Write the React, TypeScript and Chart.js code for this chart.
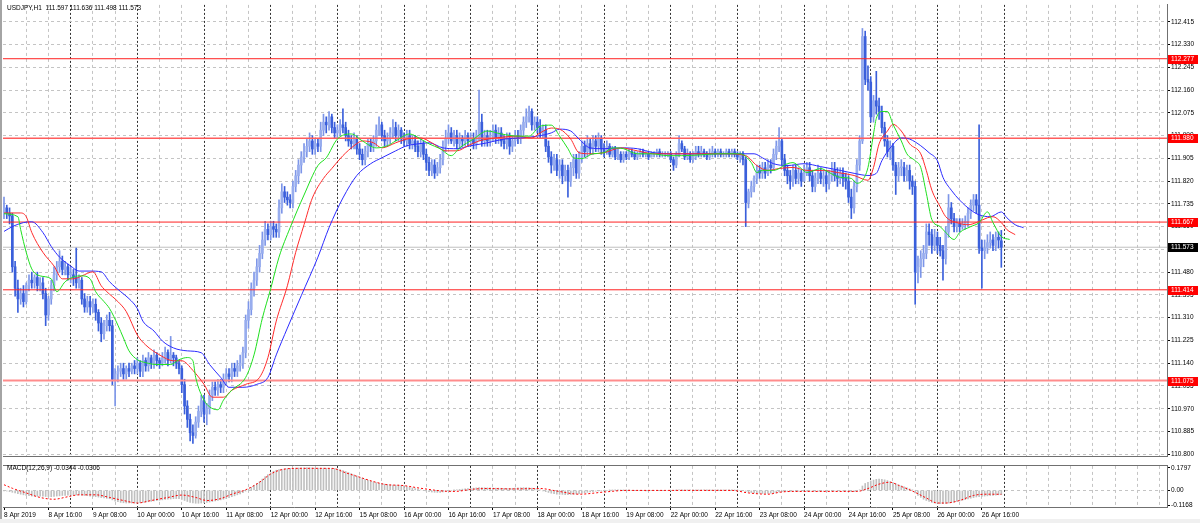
import React, { useEffect, useRef } from 'react';
import { Chart, registerables } from 'chart.js';

Chart.register(...registerables);

// ---------------- data ----------------
const symbolLabel = 'USDJPY,H1';
const lastBarOHLC = ['111.597', '111.636', '111.498', '111.573'];
const macdLabel = 'MACD(12,26,9)';
const macdLastValues = ['-0.0344', '-0.0306'];

const timeLabels = [
  '8 Apr 2019', '8 Apr 16:00', '9 Apr 08:00', '10 Apr 00:00', '10 Apr 16:00', '11 Apr 08:00',
  '12 Apr 00:00', '12 Apr 16:00', '15 Apr 08:00', '16 Apr 00:00', '16 Apr 16:00', '17 Apr 08:00',
  '18 Apr 00:00', '18 Apr 16:00', '19 Apr 08:00', '22 Apr 00:00', '22 Apr 16:00', '23 Apr 08:00',
  '24 Apr 00:00', '24 Apr 16:00', '25 Apr 08:00', '26 Apr 00:00', '26 Apr 16:00',
];

const priceTicks = [
  110.800, 110.885, 110.970, 111.055, 111.140, 111.225, 111.310, 111.395, 111.480, 111.565,
  111.650, 111.735, 111.820, 111.905, 111.990, 112.075, 112.160, 112.245, 112.330, 112.415,
];

const levels = [112.277, 111.980, 111.667, 111.414, 111.075];
const levelColors = ['#ff2020', '#ff5c5c', '#ff2020', '#ff2020', '#ff8c8c'];
const levelWidths = [1, 1.5, 1, 1, 2];
const bidPrice = 111.573;

const macdTicks = [-0.1168, 0, 0.1797];
const macdTickLabels = ['-0.1168', '0.00', '0.1797'];

// hourly bars, one row per trading day (8 Apr .. 26 Apr 2019)
const opens = [
  111.70, 111.72, 111.70, 111.69, 111.50, 111.42, 111.38, 111.40, 111.37, 111.43, 111.45, 111.44, 111.46, 111.43, 111.44, 111.40, 111.32, 111.38, 111.43, 111.47, 111.50, 111.52, 111.49, 111.50,
  111.47, 111.47, 111.46, 111.44, 111.45, 111.38, 111.35, 111.37, 111.35, 111.36, 111.33, 111.29, 111.25, 111.28, 111.30, 111.28, 111.08, 111.10, 111.11, 111.12, 111.10, 111.12, 111.11, 111.13,
  111.12, 111.14, 111.11, 111.15, 111.13, 111.16, 111.14, 111.17, 111.15, 111.14, 111.16, 111.18, 111.15, 111.17, 111.16, 111.14, 111.12, 111.06, 110.98, 110.93, 110.88, 110.87, 110.92, 110.96,
  111.00, 110.95, 110.97, 111.02, 111.05, 111.04, 111.06, 111.05, 111.08, 111.10, 111.09, 111.12, 111.11, 111.13, 111.14, 111.18, 111.30, 111.34, 111.42, 111.45, 111.50, 111.55, 111.60, 111.64,
  111.62, 111.65, 111.64, 111.63, 111.72, 111.78, 111.76, 111.75, 111.74, 111.80, 111.84, 111.88, 111.91, 111.93, 111.95, 111.97, 111.94, 111.96, 111.95, 112.01, 112.04, 112.03, 112.06, 112.02,
  112.00, 112.01, 112.03, 112.02, 111.99, 111.97, 111.96, 111.98, 111.94, 111.92, 111.90, 111.93, 111.96, 111.95, 111.97, 112.01, 112.03, 111.99, 111.97, 111.98, 112.00, 112.02, 111.99, 112.01,
  111.98, 111.97, 111.99, 111.96, 111.97, 111.95, 111.93, 111.96, 111.92, 111.89, 111.86, 111.88, 111.85, 111.87, 111.90, 111.95, 111.98, 112.00, 111.97, 111.99, 111.96, 111.98, 111.97, 111.99,
  111.97, 111.98, 111.96, 111.99, 112.04, 111.97, 111.99, 111.97, 111.99, 112.01, 111.98, 112.00, 111.97, 111.96, 111.98, 111.95, 111.97, 111.99, 111.98, 112.01, 112.04, 112.06, 112.08, 112.03,
  112.04, 112.02, 112.00, 112.01, 111.95, 111.91, 111.88, 111.90, 111.86, 111.88, 111.84, 111.86, 111.82, 111.87, 111.90, 111.85, 111.91, 111.95, 111.93, 111.96, 111.94, 111.97, 111.95, 111.98,
  111.94, 111.93, 111.95, 111.92, 111.94, 111.91, 111.92, 111.90, 111.92, 111.91, 111.93, 111.92, 111.91, 111.92, 111.93, 111.92, 111.92, 111.91, 111.92, 111.92, 111.93, 111.92, 111.92, 111.92,
  111.92, 111.90, 111.88, 111.92, 111.96, 111.94, 111.91, 111.92, 111.90, 111.91, 111.93, 111.92, 111.93, 111.92, 111.91, 111.92, 111.93, 111.92, 111.93, 111.92, 111.92, 111.93, 111.92, 111.93,
  111.92, 111.91, 111.92, 111.90, 111.74, 111.78, 111.80, 111.83, 111.86, 111.85, 111.87, 111.85, 111.88, 111.87, 111.92, 111.95, 111.97, 111.90, 111.86, 111.84, 111.82, 111.86, 111.83, 111.85,
  111.82, 111.85, 111.87, 111.84, 111.80, 111.83, 111.85, 111.83, 111.84, 111.81, 111.84, 111.86, 111.84, 111.83, 111.85, 111.83, 111.82, 111.76, 111.72, 111.80, 111.88, 111.97, 112.36, 112.20,
  112.19, 112.06, 112.12, 112.10, 112.08, 112.02, 111.97, 111.93, 111.95, 111.88, 111.84, 111.87, 111.87, 111.84, 111.86, 111.82, 111.80, 111.48, 111.50, 111.53, 111.55, 111.63, 111.62, 111.58,
  111.61, 111.58, 111.56, 111.53, 111.63, 111.72, 111.68, 111.65, 111.66, 111.65, 111.66, 111.67, 111.70, 111.73, 111.75, 111.73, 111.57, 111.56, 111.57, 111.59, 111.60, 111.58, 111.61, 111.597,
];

const highs = [
  111.76, 111.73, 111.72, 111.70, 111.52, 111.45, 111.42, 111.43, 111.44, 111.47, 111.48, 111.47, 111.48, 111.46, 111.46, 111.42, 111.39, 111.45, 111.50, 111.52, 111.56, 111.54, 111.52, 111.51,
  111.50, 111.49, 111.57, 111.47, 111.46, 111.40, 111.39, 111.39, 111.38, 111.38, 111.34, 111.31, 111.30, 111.32, 111.33, 111.30, 111.12, 111.13, 111.14, 111.14, 111.13, 111.14, 111.14, 111.15,
  111.16, 111.15, 111.17, 111.16, 111.18, 111.17, 111.19, 111.18, 111.16, 111.18, 111.20, 111.19, 111.24, 111.18, 111.17, 111.15, 111.13, 111.08, 111.00, 110.95, 110.91, 110.94, 110.98, 111.02,
  111.02, 110.99, 111.04, 111.07, 111.07, 111.08, 111.08, 111.10, 111.12, 111.12, 111.14, 111.14, 111.15, 111.17, 111.20, 111.32, 111.37, 111.44, 111.48, 111.53, 111.58, 111.63, 111.67, 111.66,
  111.67, 111.67, 111.66, 111.75, 111.81, 111.80, 111.78, 111.77, 111.82, 111.86, 111.90, 111.93, 111.96, 111.98, 112.00, 111.99, 111.98, 111.98, 112.04, 112.07, 112.06, 112.08, 112.07, 112.04,
  112.03, 112.05, 112.09, 112.04, 112.01, 111.99, 112.00, 111.99, 111.96, 111.94, 111.95, 111.98, 111.98, 111.99, 112.03, 112.06, 112.04, 112.01, 112.00, 112.02, 112.05, 112.04, 112.03, 112.02,
  112.00, 112.01, 112.01, 111.99, 111.99, 111.97, 111.98, 111.97, 111.94, 111.91, 111.90, 111.90, 111.89, 111.92, 111.97, 112.01, 112.03, 112.02, 112.01, 112.01, 112.00, 111.99, 112.01, 112.00,
  112.00, 112.00, 112.01, 112.16, 112.07, 112.01, 112.01, 112.01, 112.03, 112.03, 112.02, 112.02, 111.99, 112.00, 112.00, 111.99, 112.01, 112.01, 112.03, 112.06, 112.09, 112.10, 112.09, 112.06,
  112.06, 112.05, 112.03, 112.03, 111.97, 111.93, 111.92, 111.92, 111.90, 111.90, 111.88, 111.88, 111.89, 111.92, 111.92, 111.93, 111.97, 111.97, 111.99, 111.98, 111.99, 111.99, 112.00, 111.99,
  111.96, 111.97, 111.96, 111.95, 111.95, 111.94, 111.93, 111.93, 111.93, 111.94, 111.94, 111.93, 111.93, 111.94, 111.94, 111.93, 111.93, 111.93, 111.93, 111.94, 111.94, 111.93, 111.93, 111.93,
  111.93, 111.91, 111.93, 111.99, 111.97, 111.95, 111.94, 111.93, 111.93, 111.95, 111.95, 111.95, 111.94, 111.93, 111.94, 111.95, 111.94, 111.94, 111.94, 111.93, 111.94, 111.94, 111.94, 111.94,
  111.93, 111.93, 111.93, 111.91, 111.79, 111.82, 111.84, 111.88, 111.88, 111.89, 111.89, 111.90, 111.90, 111.94, 111.97, 112.02, 111.98, 111.92, 111.88, 111.86, 111.88, 111.88, 111.87, 111.86,
  111.88, 111.89, 111.89, 111.86, 111.85, 111.88, 111.87, 111.86, 111.86, 111.86, 111.89, 111.89, 111.87, 111.87, 111.87, 111.85, 111.84, 111.79, 111.82, 111.90, 111.99, 112.39, 112.38, 112.25,
  112.21, 112.14, 112.23, 112.13, 112.10, 112.04, 111.99, 111.97, 111.96, 111.89, 111.89, 111.90, 111.89, 111.88, 111.88, 111.84, 111.82, 111.54, 111.56, 111.58, 111.66, 111.66, 111.64, 111.64,
  111.63, 111.61, 111.58, 111.65, 111.77, 111.74, 111.70, 111.68, 111.68, 111.68, 111.69, 111.72, 111.75, 111.77, 111.77, 112.03, 111.60, 111.60, 111.62, 111.63, 111.62, 111.63, 111.63, 111.636,
];

const lows = [
  111.68, 111.68, 111.66, 111.48, 111.39, 111.33, 111.36, 111.35, 111.36, 111.41, 111.42, 111.42, 111.41, 111.41, 111.38, 111.28, 111.30, 111.36, 111.41, 111.45, 111.48, 111.47, 111.47, 111.45,
  111.44, 111.43, 111.42, 111.42, 111.36, 111.33, 111.33, 111.32, 111.33, 111.30, 111.26, 111.22, 111.23, 111.26, 111.26, 111.06, 110.98, 111.07, 111.09, 111.08, 111.08, 111.09, 111.10, 111.10,
  111.10, 111.09, 111.09, 111.11, 111.11, 111.12, 111.12, 111.13, 111.12, 111.13, 111.14, 111.13, 111.14, 111.13, 111.12, 111.10, 111.03, 110.95, 110.90, 110.85, 110.84, 110.86, 110.90, 110.94,
  110.92, 110.91, 110.95, 111.00, 111.02, 111.02, 111.03, 111.03, 111.06, 111.07, 111.07, 111.09, 111.09, 111.11, 111.12, 111.16, 111.27, 111.32, 111.39, 111.43, 111.48, 111.53, 111.58, 111.60,
  111.60, 111.61, 111.61, 111.61, 111.70, 111.74, 111.73, 111.72, 111.72, 111.78, 111.81, 111.85, 111.89, 111.91, 111.93, 111.92, 111.92, 111.93, 111.93, 111.99, 112.00, 112.01, 112.00, 111.98,
  111.98, 111.99, 112.00, 111.97, 111.95, 111.94, 111.94, 111.92, 111.90, 111.88, 111.88, 111.91, 111.93, 111.93, 111.95, 111.99, 111.97, 111.95, 111.95, 111.96, 111.98, 111.97, 111.97, 111.96,
  111.95, 111.95, 111.94, 111.94, 111.93, 111.91, 111.91, 111.90, 111.86, 111.84, 111.84, 111.83, 111.84, 111.85, 111.88, 111.93, 111.96, 111.96, 111.95, 111.94, 111.94, 111.95, 111.95, 111.95,
  111.95, 111.94, 111.94, 111.97, 111.95, 111.95, 111.95, 111.95, 111.97, 111.96, 111.96, 111.95, 111.94, 111.94, 111.92, 111.93, 111.95, 111.96, 111.96, 111.99, 112.02, 112.04, 112.01, 112.01,
  112.00, 111.98, 111.98, 111.93, 111.89, 111.85, 111.86, 111.84, 111.83, 111.81, 111.82, 111.76, 111.80, 111.84, 111.83, 111.83, 111.89, 111.91, 111.91, 111.92, 111.92, 111.93, 111.93, 111.92,
  111.91, 111.92, 111.91, 111.91, 111.90, 111.90, 111.89, 111.89, 111.90, 111.90, 111.91, 111.90, 111.90, 111.91, 111.91, 111.91, 111.90, 111.91, 111.91, 111.91, 111.91, 111.91, 111.91, 111.91,
  111.89, 111.86, 111.87, 111.91, 111.93, 111.90, 111.90, 111.89, 111.89, 111.90, 111.91, 111.91, 111.91, 111.90, 111.90, 111.91, 111.91, 111.91, 111.91, 111.91, 111.91, 111.91, 111.91, 111.91,
  111.90, 111.89, 111.88, 111.65, 111.72, 111.76, 111.78, 111.81, 111.83, 111.83, 111.83, 111.84, 111.85, 111.86, 111.90, 111.93, 111.88, 111.84, 111.81, 111.79, 111.80, 111.81, 111.81, 111.80,
  111.82, 111.84, 111.82, 111.78, 111.78, 111.81, 111.81, 111.80, 111.78, 111.79, 111.82, 111.82, 111.80, 111.81, 111.80, 111.79, 111.74, 111.68, 111.70, 111.78, 111.86, 111.96, 112.18, 112.16,
  112.04, 112.04, 112.07, 112.05, 112.00, 111.95, 111.91, 111.90, 111.86, 111.77, 111.82, 111.84, 111.82, 111.82, 111.79, 111.77, 111.36, 111.44, 111.46, 111.50, 111.53, 111.58, 111.55, 111.56,
  111.55, 111.54, 111.45, 111.51, 111.61, 111.66, 111.63, 111.63, 111.63, 111.64, 111.64, 111.65, 111.68, 111.71, 111.70, 111.55, 111.42, 111.53, 111.55, 111.57, 111.56, 111.56, 111.57, 111.498,
];

const closes = [
  111.72, 111.70, 111.69, 111.50, 111.42, 111.38, 111.40, 111.37, 111.43, 111.45, 111.44, 111.46, 111.43, 111.44, 111.40, 111.32, 111.38, 111.43, 111.47, 111.50, 111.52, 111.49, 111.50, 111.47,
  111.47, 111.46, 111.44, 111.45, 111.38, 111.35, 111.37, 111.35, 111.36, 111.33, 111.29, 111.25, 111.28, 111.30, 111.28, 111.08, 111.10, 111.11, 111.12, 111.10, 111.12, 111.11, 111.13, 111.12,
  111.14, 111.11, 111.15, 111.13, 111.16, 111.14, 111.17, 111.15, 111.14, 111.16, 111.18, 111.15, 111.17, 111.16, 111.14, 111.12, 111.06, 110.98, 110.93, 110.88, 110.87, 110.92, 110.96, 111.00,
  110.95, 110.97, 111.02, 111.05, 111.04, 111.06, 111.05, 111.08, 111.10, 111.09, 111.12, 111.11, 111.13, 111.14, 111.18, 111.30, 111.34, 111.42, 111.45, 111.50, 111.55, 111.60, 111.64, 111.62,
  111.65, 111.64, 111.63, 111.72, 111.78, 111.76, 111.75, 111.74, 111.80, 111.84, 111.88, 111.91, 111.93, 111.95, 111.97, 111.94, 111.96, 111.95, 112.01, 112.04, 112.03, 112.06, 112.02, 112.00,
  112.01, 112.03, 112.02, 111.99, 111.97, 111.96, 111.98, 111.94, 111.92, 111.90, 111.93, 111.96, 111.95, 111.97, 112.01, 112.03, 111.99, 111.97, 111.98, 112.00, 112.02, 111.99, 112.01, 111.98,
  111.97, 111.99, 111.96, 111.97, 111.95, 111.93, 111.96, 111.92, 111.89, 111.86, 111.88, 111.85, 111.87, 111.90, 111.95, 111.98, 112.00, 111.97, 111.99, 111.96, 111.98, 111.97, 111.99, 111.97,
  111.98, 111.96, 111.99, 112.04, 111.97, 111.99, 111.97, 111.99, 112.01, 111.98, 112.00, 111.97, 111.96, 111.98, 111.95, 111.97, 111.99, 111.98, 112.01, 112.04, 112.06, 112.08, 112.03, 112.04,
  112.02, 112.00, 112.01, 111.95, 111.91, 111.88, 111.90, 111.86, 111.88, 111.84, 111.86, 111.82, 111.87, 111.90, 111.85, 111.91, 111.95, 111.93, 111.96, 111.94, 111.97, 111.95, 111.98, 111.94,
  111.93, 111.95, 111.92, 111.94, 111.91, 111.92, 111.90, 111.92, 111.91, 111.93, 111.92, 111.91, 111.92, 111.93, 111.92, 111.92, 111.91, 111.92, 111.92, 111.93, 111.92, 111.92, 111.92, 111.92,
  111.90, 111.88, 111.92, 111.96, 111.94, 111.91, 111.92, 111.90, 111.91, 111.93, 111.92, 111.93, 111.92, 111.91, 111.92, 111.93, 111.92, 111.93, 111.92, 111.92, 111.93, 111.92, 111.93, 111.92,
  111.91, 111.92, 111.90, 111.74, 111.78, 111.80, 111.83, 111.86, 111.85, 111.87, 111.85, 111.88, 111.87, 111.92, 111.95, 111.97, 111.90, 111.86, 111.84, 111.82, 111.86, 111.83, 111.85, 111.82,
  111.85, 111.87, 111.84, 111.80, 111.83, 111.85, 111.83, 111.84, 111.81, 111.84, 111.86, 111.84, 111.83, 111.85, 111.83, 111.82, 111.76, 111.72, 111.80, 111.88, 111.97, 112.36, 112.20, 112.19,
  112.06, 112.12, 112.10, 112.08, 112.02, 111.97, 111.93, 111.95, 111.88, 111.84, 111.87, 111.87, 111.84, 111.86, 111.82, 111.80, 111.48, 111.50, 111.53, 111.55, 111.63, 111.62, 111.58, 111.61,
  111.58, 111.56, 111.53, 111.63, 111.72, 111.68, 111.65, 111.66, 111.65, 111.66, 111.67, 111.70, 111.73, 111.75, 111.73, 111.57, 111.56, 111.57, 111.59, 111.60, 111.58, 111.61, 111.60, 111.573,
];

// Alligator lines: [bar index, price]
const jawPts = [
  [0, 111.632], [3, 111.650], [7, 111.665], [10, 111.668], [14, 111.628], [17, 111.576], [20, 111.536], [24, 111.503],
  [27, 111.484], [31, 111.484], [35, 111.481], [38, 111.444], [42, 111.407], [45, 111.381], [48, 111.344], [50, 111.297],
  [54, 111.260], [57, 111.223], [61, 111.197], [66, 111.186], [71, 111.179], [74, 111.135], [78, 111.087], [81, 111.050],
  [86, 111.050], [91, 111.061], [95, 111.087], [98, 111.171], [102, 111.271], [107, 111.392], [113, 111.536], [117, 111.646],
  [122, 111.757], [127, 111.841], [132, 111.885], [136, 111.907], [141, 111.933], [145, 111.952], [149, 111.959], [153, 111.963],
  [158, 111.944], [163, 111.941], [168, 111.952], [174, 111.963], [180, 111.977], [186, 111.981], [192, 111.988], [197, 112.000],
  [200, 112.014], [204, 112.007], [207, 111.977], [211, 111.944], [216, 111.941], [222, 111.944], [228, 111.941], [234, 111.926],
  [241, 111.922], [251, 111.922], [260, 111.922], [270, 111.922], [273, 111.907], [277, 111.885], [282, 111.878], [288, 111.885],
  [294, 111.874], [301, 111.860], [306, 111.849], [311, 111.841], [314, 111.849], [316, 111.896], [319, 111.944], [323, 111.981],
  [326, 111.977], [330, 111.952], [333, 111.926], [336, 111.896], [338, 111.834], [341, 111.786], [344, 111.749], [348, 111.712],
  [351, 111.694], [355, 111.687], [359, 111.705], [361, 111.683], [364, 111.657], [367, 111.646],
];
const teethPts = [
  [0, 111.701], [6, 111.701], [8, 111.687], [10, 111.628], [14, 111.554], [18, 111.503], [21, 111.455], [25, 111.455],
  [28, 111.466], [32, 111.481], [35, 111.429], [37, 111.407], [41, 111.370], [44, 111.333], [48, 111.245], [51, 111.208],
  [56, 111.171], [61, 111.149], [64, 111.149], [68, 111.113], [72, 111.061], [75, 111.013], [79, 111.013], [82, 111.039],
  [87, 111.061], [92, 111.087], [95, 111.161], [98, 111.297], [102, 111.429], [105, 111.554], [108, 111.657], [111, 111.757],
  [115, 111.830], [118, 111.867], [122, 111.915], [126, 111.952], [129, 111.970], [133, 111.963], [136, 111.944], [141, 111.963],
  [145, 111.977], [150, 111.981], [154, 111.963], [159, 111.933], [163, 111.933], [167, 111.952], [171, 111.970], [177, 111.981],
  [185, 111.988], [190, 111.981], [193, 112.000], [197, 112.018], [200, 112.014], [204, 111.977], [207, 111.926], [211, 111.922],
  [216, 111.926], [222, 111.944], [228, 111.933], [234, 111.922], [241, 111.922], [251, 111.922], [260, 111.922], [267, 111.915],
  [271, 111.878], [275, 111.860], [279, 111.867], [284, 111.871], [289, 111.860], [295, 111.860], [300, 111.852], [306, 111.841],
  [311, 111.823], [313, 111.871], [315, 111.959], [318, 112.007], [320, 112.032], [323, 112.007], [326, 111.959], [330, 111.922],
  [332, 111.860], [334, 111.786], [337, 111.724], [339, 111.687], [343, 111.665], [347, 111.657], [350, 111.665], [354, 111.683],
  [356, 111.687], [359, 111.665], [361, 111.639], [364, 111.620],
];
const lipsPts = [
  [0, 111.698], [5, 111.687], [6, 111.639], [8, 111.554], [10, 111.492], [13, 111.466], [17, 111.455], [19, 111.407],
  [22, 111.444], [25, 111.462], [28, 111.466], [31, 111.455], [33, 111.407], [36, 111.370], [38, 111.344], [41, 111.282],
  [43, 111.234], [45, 111.186], [48, 111.153], [51, 111.142], [55, 111.135], [60, 111.135], [63, 111.153], [66, 111.161],
  [68, 111.149], [69, 111.087], [72, 111.002], [74, 110.977], [77, 110.966], [79, 111.002], [82, 111.039], [87, 111.087],
  [90, 111.171], [93, 111.308], [96, 111.418], [99, 111.536], [103, 111.646], [108, 111.768], [113, 111.878], [116, 111.907],
  [120, 111.977], [125, 111.996], [129, 111.970], [134, 111.944], [138, 111.952], [141, 111.970], [146, 111.996], [150, 111.977],
  [153, 111.959], [157, 111.941], [161, 111.915], [164, 111.944], [169, 111.977], [174, 112.007], [179, 111.996], [185, 111.988],
  [189, 111.988], [193, 112.025], [197, 112.029], [200, 111.988], [203, 111.941], [205, 111.907], [208, 111.904], [212, 111.922],
  [216, 111.926], [219, 111.944], [223, 111.941], [228, 111.922], [233, 111.922], [239, 111.915], [244, 111.915], [251, 111.918],
  [257, 111.922], [265, 111.922], [269, 111.889], [271, 111.852], [273, 111.860], [277, 111.860], [282, 111.885], [284, 111.889],
  [287, 111.867], [289, 111.852], [294, 111.867], [297, 111.852], [301, 111.834], [305, 111.830], [307, 111.812], [309, 111.823],
  [311, 111.871], [313, 111.996], [314, 112.054], [316, 112.080], [318, 112.080], [320, 112.032], [323, 111.970], [325, 111.922],
  [328, 111.896], [330, 111.871], [332, 111.775], [334, 111.676], [337, 111.650], [339, 111.628], [342, 111.602], [344, 111.628],
  [348, 111.650], [351, 111.665], [354, 111.705], [356, 111.665], [359, 111.613], [362, 111.602],
];

// MACD main (histogram), one value per bar
const macdHist = [
  -0.005, -0.005, -0.01, -0.015, -0.02, -0.025, -0.03, -0.035, -0.04, -0.042, -0.045, -0.045, -0.046, -0.045, -0.045, -0.048, -0.05, -0.05, -0.048, -0.045, -0.043, -0.04, -0.04, -0.038,
  -0.038, -0.037, -0.036, -0.036, -0.038, -0.04, -0.042, -0.045, -0.048, -0.05, -0.053, -0.057, -0.06, -0.063, -0.066, -0.075, -0.085, -0.09, -0.095, -0.098, -0.1, -0.1, -0.1, -0.1,
  -0.099, -0.097, -0.095, -0.093, -0.09, -0.087, -0.084, -0.081, -0.078, -0.075, -0.072, -0.07, -0.068, -0.066, -0.065, -0.066, -0.072, -0.08, -0.088, -0.095, -0.1, -0.102, -0.102, -0.1,
  -0.098, -0.095, -0.092, -0.088, -0.084, -0.08, -0.075, -0.07, -0.065, -0.058, -0.05, -0.043, -0.035, -0.027, -0.018, -0.005, 0.01, 0.025, 0.04, 0.055, 0.07, 0.09, 0.11, 0.125,
  0.14, 0.152, 0.16, 0.165, 0.168, 0.171, 0.173, 0.175, 0.176, 0.177, 0.178, 0.179, 0.18, 0.18, 0.18, 0.179, 0.178, 0.178, 0.177, 0.177, 0.176, 0.176, 0.175, 0.174,
  0.17, 0.165, 0.158, 0.15, 0.142, 0.133, 0.124, 0.115, 0.106, 0.097, 0.088, 0.08, 0.073, 0.067, 0.062, 0.058, 0.054, 0.05, 0.047, 0.045, 0.043, 0.042, 0.041, 0.04,
  0.035, 0.03, 0.025, 0.02, 0.015, 0.01, 0.005, 0.0, -0.005, -0.01, -0.013, -0.015, -0.016, -0.015, -0.012, -0.008, -0.005, -0.002, 0.002, 0.005, 0.008, 0.01, 0.012, 0.014,
  0.016, 0.018, 0.02, 0.022, 0.022, 0.021, 0.02, 0.02, 0.019, 0.018, 0.018, 0.017, 0.017, 0.016, 0.016, 0.017, 0.018, 0.02, 0.021, 0.022, 0.022, 0.02, 0.018, 0.015,
  0.01, 0.004, -0.003, -0.01, -0.016, -0.022, -0.026, -0.029, -0.031, -0.032, -0.033, -0.033, -0.032, -0.03, -0.028, -0.025, -0.022, -0.018, -0.015, -0.012, -0.009, -0.006, -0.004, -0.002,
  -0.001, 0, 0.001, 0.002, 0.002, 0.002, 0.002, 0.001, 0.001, 0.001, 0, 0, 0, 0, 0, -0.001, -0.001, 0, 0, 0, 0, 0, 0, 0,
  0, 0, 0.001, 0.003, 0.004, 0.004, 0.003, 0.003, 0.002, 0.002, 0.002, 0.002, 0.001, 0.001, 0.001, 0.001, 0.001, 0.001, 0.001, 0.001, 0.001, 0.001, 0.001, 0.001,
  0.001, 0, 0, -0.008, -0.013, -0.017, -0.02, -0.022, -0.023, -0.024, -0.024, -0.023, -0.022, -0.02, -0.016, -0.012, -0.01, -0.009, -0.008, -0.008, -0.007, -0.007, -0.006, -0.006,
  -0.006, -0.006, -0.006, -0.007, -0.007, -0.006, -0.006, -0.006, -0.006, -0.006, -0.005, -0.005, -0.005, -0.005, -0.005, -0.005, -0.007, -0.01, -0.01, -0.006, 0.005, 0.035, 0.055, 0.065,
  0.075, 0.082, 0.088, 0.09, 0.088, 0.084, 0.078, 0.07, 0.062, 0.054, 0.045, 0.037, 0.028, 0.02, 0.012, 0.005, -0.02, -0.04, -0.055, -0.07, -0.08, -0.088, -0.095, -0.1,
  -0.103, -0.105, -0.105, -0.104, -0.1, -0.097, -0.093, -0.088, -0.083, -0.078, -0.073, -0.068, -0.062, -0.057, -0.052, -0.05, -0.048, -0.045, -0.043, -0.041, -0.039, -0.037, -0.035, -0.0344,
];

// MACD signal line: [bar index, value]
const signalPts = [
  [0, 0.045], [3, 0.017], [8, -0.02], [13, -0.056], [18, -0.07], [23, -0.05], [27, -0.035], [33, -0.035],
  [38, -0.056], [43, -0.08], [48, -0.1], [53, -0.08], [59, -0.056], [64, -0.037], [69, -0.056], [73, -0.08],
  [78, -0.065], [82, -0.03], [87, 0.005], [92, 0.065], [96, 0.13], [100, 0.165], [106, 0.175], [118, 0.175],
  [123, 0.14], [128, 0.105], [133, 0.07], [138, 0.045], [143, 0.04], [150, 0.017], [158, -0.005], [162, -0.008],
  [169, 0.01], [174, 0.015], [183, 0.012], [193, 0.015], [199, -0.005], [207, -0.03], [216, -0.013], [224, 0],
  [238, 0], [250, 0], [262, 0], [268, -0.02], [275, -0.03], [280, -0.012], [286, -0.008], [298, -0.008],
  [307, -0.008], [311, 0.015], [315, 0.05], [319, 0.065], [322, 0.04], [327, -0.005], [332, -0.06], [336, -0.1],
  [339, -0.1], [344, -0.08], [349, -0.04], [354, -0.03], [359, -0.0306],
];

// ---------------- layout / style ----------------
const X_MIN = -0.36;
const X_MAX = 418.64;
const Y_MIN = 110.793;
const Y_MAX = 112.478;
const M_MIN = -0.1316;
const M_MAX = 0.1945;
const BARS_PER_DAY = 24;
const DATA_BARS = closes.length;
const GRID_STEP = 8;
const LABEL_STEP = 16;
const FONT_FAMILY = '"Liberation Sans", Arial, sans-serif';
const FONT = { family: FONT_FAMILY, size: 6.5 };
const GRID_GRAY = '#c4c4c4';
const DAY_SEP = '#303030';
const FRAME = '#707070';
const BULL_BODY = '#98adee';
const BULL_WICK = '#7d96e8';
const BEAR_BODY = '#3a5fdb';
const BEAR_WICK = '#3a5fdb';

const gridTicks: number[] = [];
for (let v = 0; v <= X_MAX; v += GRID_STEP) gridTicks.push(v);
const dayTicks: number[] = [];
for (let v = BARS_PER_DAY; v <= DATA_BARS; v += BARS_PER_DAY) dayTicks.push(v);

const isDaySep = (v: number) => v > 0 && v % BARS_PER_DAY === 0 && v <= DATA_BARS;
const isLabelTick = (v: number) => v % LABEL_STEP === 0 && v / LABEL_STEP < timeLabels.length;
const isBull = (i: number) => closes[i] >= opens[i];

const grayGridColor = (c: any) => {
  const v = c.tick ? c.tick.value : null;
  if (v == null || v === 0 || isDaySep(v)) return 'transparent';
  return GRID_GRAY;
};

const baseX = (extra: any = {}) => ({
  type: 'linear',
  min: X_MIN,
  max: X_MAX,
  offset: false,
  position: 'bottom',
  ...extra,
});

const dayAxis = baseX({
  afterBuildTicks: (s: any) => { s.ticks = dayTicks.map((v) => ({ value: v })); },
  ticks: { display: false },
  grid: { offset: false, drawTicks: false, color: DAY_SEP, lineWidth: 1 },
  border: { display: false, dash: [2, 2] },
});

const levelTags = {
  id: 'levelTags',
  afterDraw(chart: any) {
    const { ctx, chartArea, scales } = chart;
    const ys = scales.y;
    const tags = levels.map((v) => ({ v, bg: '#ff0000' })).concat([{ v: bidPrice, bg: '#000000' }]);
    ctx.save();
    ctx.font = `6.5px ${FONT_FAMILY}`;
    ctx.textBaseline = 'middle';
    ctx.textAlign = 'left';
    for (const t of tags) {
      const py = Math.round(ys.getPixelForValue(t.v));
      ctx.fillStyle = t.bg;
      ctx.fillRect(chartArea.right + 1, py - 4, 30, 9);
      ctx.fillStyle = '#ffffff';
      ctx.fillText(t.v.toFixed(3), chartArea.right + 4, py + 0.5);
    }
    ctx.restore();
  },
};

function mainConfig(): any {
  const idx = closes.map((_, i) => i);
  const lineDs = (pts: number[][], color: string) => ({
    type: 'line',
    data: pts.map(([x, y]) => ({ x, y })),
    borderColor: color,
    borderWidth: 1,
    pointRadius: 0,
    cubicInterpolationMode: 'monotone',
    order: 0,
  });
  const levelDs = levels.map((lv, k) => ({
    type: 'line',
    data: [{ x: X_MIN, y: lv }, { x: X_MAX, y: lv }],
    borderColor: levelColors[k],
    borderWidth: levelWidths[k],
    pointRadius: 0,
    order: 1,
  }));
  return {
    type: 'bar',
    data: {
      datasets: [
        lineDs(lipsPts, '#1fe01f'),
        lineDs(teethPts, '#ff2b2b'),
        lineDs(jawPts, '#2b2bff'),
        ...levelDs,
        {
          type: 'bar',
          data: idx.map((i) => ({ x: i, y: [opens[i], closes[i]] })),
          backgroundColor: idx.map((i) => (isBull(i) ? BULL_BODY : BEAR_BODY)),
          barThickness: 2,
          minBarLength: 1,
          grouped: false,
          borderWidth: 0,
          order: 2,
        },
        {
          type: 'bar',
          data: idx.map((i) => ({ x: i, y: [lows[i], highs[i]] })),
          backgroundColor: idx.map((i) => (isBull(i) ? BULL_WICK : BEAR_WICK)),
          barThickness: 1,
          grouped: false,
          borderWidth: 0,
          order: 3,
        },
        {
          type: 'line',
          data: [{ x: X_MIN, y: bidPrice }, { x: X_MAX, y: bidPrice }],
          borderColor: '#c0c0c0',
          borderWidth: 1,
          pointRadius: 0,
          order: 4,
        },
      ],
    },
    options: {
      responsive: false,
      animation: false,
      devicePixelRatio: 1,
      events: [],
      layout: { padding: { left: 3, top: 2, right: 0, bottom: 1 } },
      plugins: { legend: { display: false }, tooltip: { enabled: false }, title: { display: false } },
      scales: {
        x: baseX({
          afterBuildTicks: (s: any) => { s.ticks = gridTicks.map((v) => ({ value: v })); },
          ticks: { display: false },
          grid: { offset: false, drawTicks: false, color: grayGridColor, lineWidth: 1 },
          border: { display: true, color: FRAME, width: 1, dash: [3, 3] },
        }),
        xDay: dayAxis,
        y: {
          type: 'linear',
          position: 'right',
          min: Y_MIN,
          max: Y_MAX,
          afterBuildTicks: (s: any) => { s.ticks = priceTicks.map((v) => ({ value: v })); },
          afterFit: (s: any) => { s.width = 33; },
          ticks: {
            autoSkip: false,
            font: FONT,
            color: '#000000',
            padding: 1,
            callback: (v: any) => Number(v).toFixed(3),
          },
          grid: { color: GRID_GRAY, drawTicks: true, tickLength: 3, tickColor: '#000000', lineWidth: 1 },
          border: { display: true, color: FRAME, width: 1, dash: [3, 3] },
        },
      },
    },
    plugins: [levelTags],
  };
}

function macdConfig(): any {
  return {
    type: 'bar',
    data: {
      datasets: [
        {
          type: 'line',
          data: signalPts.map(([x, y]) => ({ x, y })),
          borderColor: '#ff0000',
          borderWidth: 1,
          borderDash: [2, 2],
          pointRadius: 0,
          cubicInterpolationMode: 'monotone',
          order: 0,
        },
        {
          type: 'bar',
          data: macdHist.map((v, i) => ({ x: i, y: v })),
          backgroundColor: '#c0c0c0',
          barThickness: 1,
          grouped: false,
          borderWidth: 0,
          order: 1,
        },
      ],
    },
    options: {
      responsive: false,
      animation: false,
      devicePixelRatio: 1,
      events: [],
      layout: { padding: { left: 3, top: 2, right: 0, bottom: 0 } },
      plugins: { legend: { display: false }, tooltip: { enabled: false }, title: { display: false } },
      scales: {
        x: baseX({
          afterBuildTicks: (s: any) => { s.ticks = gridTicks.map((v) => ({ value: v })); },
          afterFit: (s: any) => { s.height = 16; },
          ticks: {
            display: true,
            autoSkip: false,
            maxRotation: 0,
            minRotation: 0,
            align: 'start',
            padding: 1,
            font: FONT,
            color: '#000000',
            callback: (v: any) => (isLabelTick(Number(v)) ? timeLabels[Number(v) / LABEL_STEP] : ''),
          },
          grid: {
            offset: false,
            drawTicks: true,
            tickLength: 3,
            tickColor: (c: any) => (c.tick && isLabelTick(c.tick.value) ? '#000000' : 'transparent'),
            color: grayGridColor,
            lineWidth: 1,
          },
          border: { display: true, color: FRAME, width: 1, dash: [3, 3] },
        }),
        xDay: dayAxis,
        xTop: baseX({
          position: 'top',
          ticks: { display: false },
          grid: { display: false, drawTicks: false },
          border: { display: true, color: FRAME, width: 1 },
        }),
        y: {
          type: 'linear',
          position: 'right',
          min: M_MIN,
          max: M_MAX,
          afterBuildTicks: (s: any) => { s.ticks = macdTicks.map((v) => ({ value: v })); },
          afterFit: (s: any) => { s.width = 33; },
          ticks: {
            autoSkip: false,
            font: FONT,
            color: '#000000',
            padding: 1,
            callback: (_v: any, i: number) => macdTickLabels[i] ?? '',
          },
          grid: {
            color: (c: any) => (c.tick && c.tick.value === 0 ? GRID_GRAY : 'transparent'),
            drawTicks: true,
            tickLength: 3,
            tickColor: '#000000',
            lineWidth: 1,
          },
          border: { display: true, color: FRAME, width: 1, dash: [3, 3] },
        },
      },
    },
  };
}

const textStyle: any = {
  position: 'absolute',
  font: `6.5px ${FONT_FAMILY}`,
  lineHeight: '10px',
  color: '#000000',
  whiteSpace: 'pre',
  pointerEvents: 'none',
};

export default function App() {
  const mainRef = useRef<HTMLCanvasElement>(null);
  const macdRef = useRef<HTMLCanvasElement>(null);

  useEffect(() => {
    const c1 = new Chart(mainRef.current as HTMLCanvasElement, mainConfig());
    const c2 = new Chart(macdRef.current as HTMLCanvasElement, macdConfig());
    return () => {
      c1.destroy();
      c2.destroy();
    };
  }, []);

  return (
    <div style={{ position: 'fixed', left: 0, top: 0, width: 1200, height: 523, background: '#ffffff', overflow: 'hidden' }}>
      <canvas ref={mainRef} width={1200} height={461} style={{ position: 'absolute', left: 0, top: 0, width: 1200, height: 461 }} />
      <canvas ref={macdRef} width={1200} height={62} style={{ position: 'absolute', left: 0, top: 461, width: 1200, height: 62 }} />
      <div style={{ position: 'absolute', left: 0, top: 0, width: 2, height: 523, background: '#a4a4a4' }} />
      <div style={{ position: 'absolute', left: 0, top: 519, width: 1200, height: 4, background: '#f0f0f0' }} />
      <div style={{ ...textStyle, left: 7, top: 3 }}>{`${symbolLabel}  ${lastBarOHLC.join(' ')}`}</div>
      <div style={{ ...textStyle, left: 7, top: 463 }}>{`${macdLabel} ${macdLastValues.join(' ')}`}</div>
    </div>
  );
}
